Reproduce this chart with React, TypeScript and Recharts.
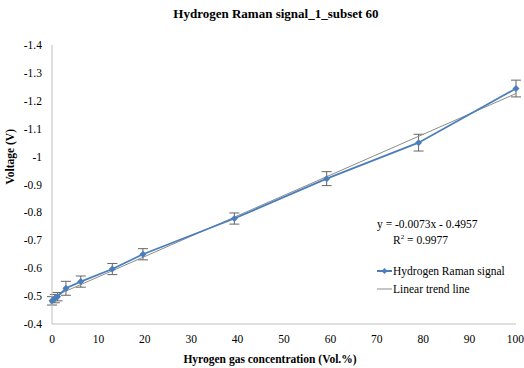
import { ScatterChart, Scatter, XAxis, YAxis, ErrorBar } from 'recharts';

const concentration = [0, 0.6, 1.2, 3, 6.2, 13, 19.6, 39.3, 59.2, 79, 100];
const voltage = [-0.483, -0.491, -0.498, -0.528, -0.552, -0.597, -0.65, -0.778, -0.921, -1.05, -1.244];
const voltageErr = [0.015, 0.015, 0.015, 0.025, 0.02, 0.02, 0.02, 0.02, 0.025, 0.03, 0.03];

const trendX = [0, 100];
const trendY = [-0.496, -1.226];

const xTicks = [0, 10, 20, 30, 40, 50, 60, 70, 80, 90, 100];
const yTicks = [-1.4, -1.3, -1.2, -1.1, -1, -0.9, -0.8, -0.7, -0.6, -0.5, -0.4];

const signalData = concentration.map((x, i) => ({ x, y: voltage[i], err: voltageErr[i] }));
const trendData = trendX.map((x, i) => ({ x, y: trendY[i] }));

const BLUE = '#4a7ebb';
const TREND = '#8c8c8c';
const FONT = "'Liberation Serif', 'DejaVu Serif', serif";

function Diamond({ cx, cy }: any) {
  if (cx === undefined || cy === undefined) return null;
  const s = 3.5;
  return <path d={`M${cx},${cy - s}L${cx + s},${cy}L${cx},${cy + s}L${cx - s},${cy}Z`} fill={BLUE} />;
}

function NoDot() {
  return <g />;
}

function LegendBox() {
  return (
    <div style={{ position: 'absolute', left: 377, top: 262, fontSize: 11.5, color: '#000', lineHeight: '18px' }}>
      <div style={{ display: 'flex', alignItems: 'center' }}>
        <svg width={16} height={10}>
          <line x1={0} y1={5} x2={15} y2={5} stroke={BLUE} strokeWidth={2} />
          <path d="M7.5,2L10.5,5L7.5,8L4.5,5Z" fill={BLUE} />
        </svg>
        <span>Hydrogen Raman signal</span>
      </div>
      <div style={{ display: 'flex', alignItems: 'center' }}>
        <svg width={16} height={10}>
          <line x1={0} y1={5} x2={15} y2={5} stroke={TREND} strokeWidth={1} />
        </svg>
        <span>Linear trend line</span>
      </div>
    </div>
  );
}

export default function App() {
  return (
    <div style={{ position: 'absolute', left: 0, top: 0, width: 524, height: 368, background: '#fff', fontFamily: FONT }}>
      <ScatterChart width={524} height={368} margin={{ top: 45, right: 8, left: 0, bottom: 0 }}>
        <XAxis
          type="number"
          dataKey="x"
          domain={[0, 100]}
          ticks={xTicks}
          height={44}
          tickLine={false}
          tickSize={9}
          axisLine={{ stroke: '#bfbfbf' }}
          tick={{ fill: '#000', fontSize: 11.5, fontFamily: FONT }}
          label={{ value: 'Hyrogen gas concentration (Vol.%)', position: 'insideBottom', offset: 5, dx: -14, fill: '#000', fontSize: 11.5, fontWeight: 'bold', fontFamily: FONT }}
        />
        <YAxis
          type="number"
          dataKey="y"
          domain={[-1.4, -0.4]}
          ticks={yTicks}
          reversed
          width={52}
          tickLine={false}
          tickSize={8}
          axisLine={{ stroke: '#bfbfbf' }}
          tick={{ fill: '#000', fontSize: 11.5, fontFamily: FONT }}
          label={{ value: 'Voltage (V)', angle: -90, position: 'insideLeft', offset: 10, fill: '#000', fontSize: 11.5, fontWeight: 'bold', fontFamily: FONT }}
        />
        <Scatter
          name="Linear trend line"
          data={trendData}
          line={{ stroke: TREND, strokeWidth: 1 }}
          shape={<NoDot />}
          isAnimationActive={false}
        />
        <Scatter
          name="Hydrogen Raman signal"
          data={signalData}
          line={{ stroke: BLUE, strokeWidth: 1.75 }}
          shape={<Diamond />}
          isAnimationActive={false}
        >
          <ErrorBar dataKey="err" direction="y" width={5} stroke="#666" strokeWidth={1} />
        </Scatter>
      </ScatterChart>
      <div style={{ position: 'absolute', left: 126, top: 6, width: 300, textAlign: 'center', fontSize: 13, fontWeight: 'bold' }}>
        Hydrogen Raman signal_1_subset 60
      </div>
      <div style={{ position: 'absolute', left: 377, top: 218, fontSize: 11.5, lineHeight: '13px' }}>
        <div>y = -0.0073x - 0.4957</div>
        <div style={{ paddingLeft: 16 }}>
          R<sup style={{ fontSize: 7 }}>2</sup> = 0.9977
        </div>
      </div>
      <LegendBox />
    </div>
  );
}
